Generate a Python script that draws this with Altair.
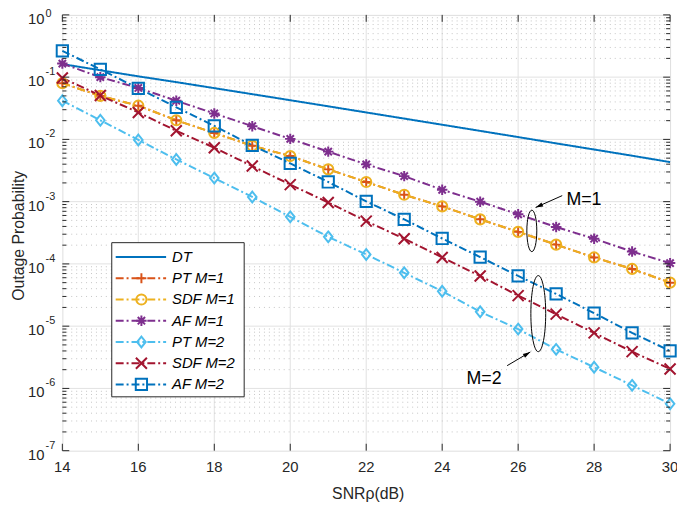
import altair as alt
import pandas as pd

FONT = "Liberation Sans"
AX = "#262626"

# ---------------- data ----------------
snr = list(range(14, 31))
series_names = ["DT", "PT M=1", "SDF M=1", "AF M=1", "PT M=2", "SDF M=2", "AF M=2"]
dt = [0.162, 0.129, 0.103, 0.0832, 0.0666, 0.0533, 0.0426, 0.0340, 0.0271, 0.0216,
      0.0172, 0.0137, 0.0109, 0.00864, 0.00688, 0.00547, 0.00432]
pt_m1 = [0.080, 0.050, 0.0348, 0.0203, 0.0127, 0.0079, 0.0054, 0.0033, 0.00207, 0.00129,
         8.4e-4, 5.2e-4, 3.27e-4, 2.04e-4, 1.27e-4, 8.3e-5, 5.0e-5]
sdf_m1 = [0.080, 0.050, 0.0348, 0.0203, 0.0127, 0.0079, 0.0054, 0.0033, 0.00207, 0.00129,
          8.4e-4, 5.2e-4, 3.27e-4, 2.04e-4, 1.27e-4, 8.3e-5, 5.0e-5]
af_m1 = [0.165, 0.100, 0.067, 0.0418, 0.0261, 0.0163, 0.0102, 0.00636, 0.00397, 0.00257,
         0.00155, 0.00100, 6.27e-4, 3.92e-4, 2.54e-4, 1.58e-4, 1.03e-4]
pt_m2 = [0.0418, 0.0203, 0.0098, 0.00476, 0.00239, 0.00119, 5.7e-4, 2.72e-4, 1.42e-4, 7.2e-5,
         3.63e-5, 1.70e-5, 8.97e-6, 4.24e-6, 2.19e-6, 1.12e-6, 5.65e-7]
sdf_m2 = [0.097, 0.0506, 0.0271, 0.01375, 0.00735, 0.00373, 0.00188, 9.7e-4, 4.86e-4, 2.54e-4,
          1.27e-4, 6.4e-5, 3.1e-5, 1.56e-5, 7.8e-6, 3.9e-6, 2.05e-6]
af_m2 = [0.265, 0.133, 0.0662, 0.0328, 0.0165, 0.0080, 0.00412, 0.00207, 0.00101, 5.2e-4,
         2.56e-4, 1.29e-4, 6.4e-5, 3.3e-5, 1.62e-5, 7.8e-6, 4.0e-6]

x_ticks = [14, 16, 18, 20, 22, 24, 26, 28, 30]
y_exps = [0, -1, -2, -3, -4, -5, -6, -7]
x_title = "SNR\u03c1(dB)"
y_title = "Outage Probability"

ann_labels = ["M=1", "M=2"]
ann_x = [27.27, 24.64]
ann_y = [1.08e-3, 1.43e-6]
arrow_x = [27.16, 25.71]
arrow_y = [1.25e-3, 2.32e-6]
arrow_tip_x = [26.46, 26.32]
arrow_tip_y = [8.07e-4, 3.85e-6]
ellipse_x = [26.36, 26.53]
ellipse_y = [3.39e-4, 1.59e-5]

# ---------------- layout ----------------
W, H = 615, 441

# ---------------- tables ----------------
all_series = [dt, pt_m1, sdf_m1, af_m1, pt_m2, sdf_m2, af_m2]
rows = []
for name, vals in zip(series_names, all_series):
    for s, p in zip(snr, vals):
        rows.append({"series": name, "snr": s, "p": p})
df = pd.DataFrame(rows)
df_relay = df[df.series != "DT"]

y_major = [10.0 ** e for e in y_exps]
y_minor = [m * 10.0 ** e for e in y_exps[1:] for m in range(2, 10)]

colors = ["#0072BD", "#D95319", "#EDB120", "#7E2F8E", "#4DBEEE", "#A2142F", "#0072BD"]
DASHDOT = [8, 3, 2, 3]
shapes = [
    "M-1 0 H1 M0 -1 V1",                                        # +
    "circle",                                                   # o
    "M-1 0 H1 M0 -1 V1 M-0.7 -0.7 L0.7 0.7 M-0.7 0.7 L0.7 -0.7",  # *
    "M0 -1 L0.8 0 L0 1 L-0.8 0 Z",                              # diamond
    "M-1 -1 L1 1 M-1 1 L1 -1",                                  # x
    "square",                                                   # square
]
sizes = [100, 130, 100, 170, 64, 64]

xs = alt.Scale(domain=[14, 30], nice=False, zero=False)
ys = alt.Scale(type="log", domain=[1e-7, 1], nice=False)
color_scale = alt.Scale(domain=series_names, range=colors)
dash_scale = alt.Scale(domain=series_names, range=[[1, 0]] + [DASHDOT] * 6)
shape_scale = alt.Scale(domain=series_names[1:], range=shapes)
size_scale = alt.Scale(domain=series_names[1:], range=sizes)

Y = lambda f: alt.Y(f, scale=ys, axis=None)
X = lambda f: alt.X(f, scale=xs, axis=None)

grid_y = alt.Chart(pd.DataFrame({"v": y_major[1:-1]})).mark_rule(
    color="#e2e2e2", strokeWidth=1).encode(y=Y("v:Q"))
grid_x = alt.Chart(pd.DataFrame({"v": x_ticks[1:-1]})).mark_rule(
    color="#e2e2e2", strokeWidth=1).encode(x=X("v:Q"))
grid_minor = alt.Chart(pd.DataFrame({"v": y_minor})).mark_rule(
    color="#c4c4c4", strokeWidth=1, strokeDash=[1, 4]).encode(y=Y("v:Q"))

lines = alt.Chart(df).mark_line(strokeWidth=2).encode(
    x=X("snr:Q"), y=Y("p:Q"),
    color=alt.Color("series:N", scale=color_scale, legend=None),
    strokeDash=alt.StrokeDash("series:N", scale=dash_scale, legend=None),
)
points = alt.Chart(df_relay).mark_point(filled=False, strokeWidth=2, opacity=1).encode(
    x=X("snr:Q"), y=Y("p:Q"),
    color=alt.Color("series:N", scale=color_scale, legend=None),
    shape=alt.Shape("series:N", scale=shape_scale, legend=None),
    size=alt.Size("series:N", scale=size_scale, legend=None),
)

ell_df = pd.DataFrame({"x": ellipse_x, "y": ellipse_y})
ell1 = alt.Chart(ell_df.iloc[[0]]).mark_point(
    shape="M0 -1 A0.24 1 0 1 1 0 1 A0.24 1 0 1 1 0 -1 Z", size=1764, filled=False,
    color="black", strokeWidth=1, opacity=1).encode(x=X("x:Q"), y=Y("y:Q"))
ell2 = alt.Chart(ell_df.iloc[[1]]).mark_point(
    shape="M0 -1 A0.195 1 0 1 1 0 1 A0.195 1 0 1 1 0 -1 Z", size=5929, filled=False,
    color="black", strokeWidth=1, opacity=1).encode(x=X("x:Q"), y=Y("y:Q"))

arr_df = pd.DataFrame({"x": arrow_x, "y": arrow_y, "x2": arrow_tip_x, "y2": arrow_tip_y})
arrows = alt.Chart(arr_df).mark_rule(color="black", strokeWidth=1).encode(
    x=X("x:Q"), y=Y("y:Q"), x2="x2:Q", y2="y2:Q")
HEAD = "M0 0 L-0.45 1.5 L0.45 1.5 Z"
head1 = alt.Chart(arr_df.iloc[[0]]).mark_point(
    shape=HEAD, size=100, filled=True, color="black", opacity=1, angle=246).encode(
    x=X("x2:Q"), y=Y("y2:Q"))
head2 = alt.Chart(arr_df.iloc[[1]]).mark_point(
    shape=HEAD, size=100, filled=True, color="black", opacity=1, angle=59).encode(
    x=X("x2:Q"), y=Y("y2:Q"))
ann_text = alt.Chart(pd.DataFrame({"t": ann_labels, "x": ann_x, "y": ann_y})).mark_text(
    align="left", baseline="middle", fontSize=18, font=FONT, color="black").encode(
    x=X("x:Q"), y=Y("y:Q"), text="t:N")

# ---- axis labels / titles as text ----
lab_df = pd.DataFrame({"v": y_major, "base": ["10"] * len(y_major),
                       "t": [str(e) for e in y_exps]})
y_base = alt.Chart(lab_df).mark_text(align="right", baseline="middle", fontSize=15,
                                     dy=4, font=FONT, color=AX).encode(
    x=alt.value(-18), y=Y("v:Q"), text="base:N")
y_exp_top = alt.Chart(lab_df.iloc[[0]]).mark_text(
    align="left", baseline="middle", fontSize=11, dy=-1, font=FONT, color=AX).encode(
    x=alt.value(-17), y=Y("v:Q"), text="t:N")
y_exp = alt.Chart(lab_df.iloc[1:]).mark_text(
    align="left", baseline="middle", fontSize=11, dy=-5, font=FONT, color=AX).encode(
    x=alt.value(-17), y=Y("v:Q"), text="t:N")
x_lab = alt.Chart(pd.DataFrame({"v": x_ticks})).mark_text(
    align="center", baseline="middle", fontSize=15, font=FONT, color=AX).encode(
    x=X("v:Q"), y=alt.value(H + 17), text="v:Q")
x_tit = alt.Chart(pd.DataFrame({"t": [x_title]})).mark_text(
    align="center", baseline="middle", fontSize=16, font=FONT, color=AX).encode(
    x=alt.value(W / 2 + 2), y=alt.value(H + 44), text="t:N")
y_tit = alt.Chart(pd.DataFrame({"t": [y_title]})).mark_text(
    align="center", baseline="middle", fontSize=16, font=FONT, color=AX, angle=270).encode(
    x=alt.value(-44), y=alt.value(H / 2 + 3), text="t:N")

maj_df = pd.DataFrame({"v": y_major})
min_df = pd.DataFrame({"v": y_minor})
xt_df = pd.DataFrame({"v": x_ticks})
tk = dict(color=AX, strokeWidth=1)
ticks = [
    alt.Chart(maj_df).mark_rule(**tk).encode(y=Y("v:Q"), x=alt.value(0), x2=alt.value(7)),
    alt.Chart(maj_df).mark_rule(**tk).encode(y=Y("v:Q"), x=alt.value(W - 7), x2=alt.value(W)),
    alt.Chart(min_df).mark_rule(**tk).encode(y=Y("v:Q"), x=alt.value(0), x2=alt.value(4)),
    alt.Chart(min_df).mark_rule(**tk).encode(y=Y("v:Q"), x=alt.value(W - 4), x2=alt.value(W)),
    alt.Chart(xt_df).mark_rule(**tk).encode(x=X("v:Q"), y=alt.value(H - 7), y2=alt.value(H)),
    alt.Chart(xt_df).mark_rule(**tk).encode(x=X("v:Q"), y=alt.value(0), y2=alt.value(7)),
]

plot = alt.layer(grid_y, grid_x, grid_minor, lines, points, ell1, ell2, arrows,
                 head1, head2, ann_text, y_base, y_exp_top, y_exp, x_lab, x_tit, y_tit,
                 *ticks)

# ---------------- legend ----------------
leg_scale = alt.Scale(type="point", domain=series_names, range=[245, 374], padding=0)
leg_df = pd.DataFrame({"series": series_names})
leg_box = alt.Chart(pd.DataFrame({"a": [0]})).mark_rect(
    fill="white", stroke=AX, strokeWidth=1).encode(
    x=alt.value(50), x2=alt.value(184), y=alt.value(230.5), y2=alt.value(386.5))
leg_lines = alt.Chart(leg_df).mark_rule(strokeWidth=2).encode(
    x=alt.value(54), x2=alt.value(105),
    y=alt.Y("series:N", scale=leg_scale, axis=None),
    color=alt.Color("series:N", scale=color_scale, legend=None),
    strokeDash=alt.StrokeDash("series:N", scale=dash_scale, legend=None),
)
leg_pts = alt.Chart(leg_df[leg_df.series != "DT"]).mark_point(
    filled=False, strokeWidth=2, opacity=1).encode(
    x=alt.value(80),
    y=alt.Y("series:N", scale=leg_scale, axis=None),
    color=alt.Color("series:N", scale=color_scale, legend=None),
    shape=alt.Shape("series:N", scale=shape_scale, legend=None),
    size=alt.Size("series:N", scale=size_scale, legend=None),
)
leg_txt = alt.Chart(leg_df).mark_text(
    align="left", baseline="middle", fontSize=15, fontStyle="italic",
    font=FONT, color="black").encode(
    x=alt.value(111), y=alt.Y("series:N", scale=leg_scale, axis=None), text="series:N")
legend = alt.layer(leg_box, leg_lines, leg_pts, leg_txt)

chart = alt.layer(plot, legend).resolve_scale(y="independent").properties(
    width=W, height=H,
    padding={"left": 55, "top": 4, "right": 7, "bottom": 52},
    autosize=alt.AutoSizeParams(type="none"),
).configure_view(stroke=AX, strokeWidth=1).configure(font=FONT)

chart.save("out.html", embed_options={"renderer": "svg", "actions": False})
